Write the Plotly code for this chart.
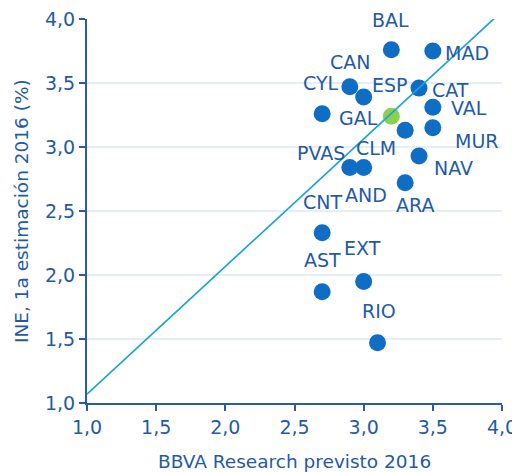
import plotly.graph_objects as go

regions = ["BAL", "MAD", "CAN", "GAL", "CAT", "CYL", "ESP", "CLM", "VAL",
           "MUR", "NAV", "PVAS", "AND", "ARA", "CNT", "EXT", "AST", "RIO"]
bbva_2016 = [3.2, 3.5, 2.9, 3.0, 3.4, 2.7, 3.2, 3.3, 3.5,
             3.5, 3.4, 2.9, 3.0, 3.3, 2.7, 3.0, 2.7, 3.1]
ine_2016 = [3.76, 3.75, 3.47, 3.39, 3.46, 3.26, 3.24, 3.13, 3.31,
            3.15, 2.93, 2.84, 2.84, 2.72, 2.33, 1.95, 1.87, 1.47]
highlight = "ESP"

line_x = [1.0, 3.97]
line_y = [1.07, 4.03]

x_ticks = [1.0, 1.5, 2.0, 2.5, 3.0, 3.5, 4.0]
y_ticks = [1.0, 1.5, 2.0, 2.5, 3.0, 3.5, 4.0]

# label offsets in pixels (dx right, dy down) – styling only
label_offsets = {
    "BAL": (-1, -30), "MAD": (34, 2), "CAN": (0, -25), "GAL": (-5, 21),
    "CAT": (31, 2), "CYL": (-1, -31), "ESP": (-1, -31), "CLM": (-29, 18),
    "VAL": (36, 1), "MUR": (44, 13), "NAV": (34, 12), "PVAS": (-29, -14),
    "AND": (2, 28), "ARA": (10, 22), "CNT": (0, -31), "EXT": (-1, -33),
    "AST": (0, -32), "RIO": (1, -32),
}

BLUE = "#0f6dc4"
GREEN = "#8ccf4d"
TXT = "#1f5aa8"
AXIS = "#2a5ba6"
FONT = "DejaVu Sans"

colors = [GREEN if r == highlight else BLUE for r in regions]

# page body has an 8px margin, so the figure is 8px smaller and margins shifted
W, H = 512, 464
L, R, T, B = 79, 18, 11, 69
PW, PH = W - L - R, H - T - B

fig = go.Figure()
fig.add_trace(go.Scatter(
    x=bbva_2016, y=ine_2016, mode="markers",
    marker=dict(size=17, color=colors, line=dict(width=0)),
    showlegend=False, hoverinfo="skip", cliponaxis=False,
))
fig.add_trace(go.Scatter(
    x=line_x, y=line_y, mode="lines",
    line=dict(color="#1ba2df", width=1.7),
    showlegend=False, hoverinfo="skip",
))

for r, xv, yv in zip(regions, bbva_2016, ine_2016):
    dx, dy = label_offsets[r]
    fig.add_annotation(x=xv, y=yv, text=r, showarrow=False,
                       xshift=dx, yshift=-dy,
                       font=dict(family=FONT, size=19, color=TXT))

fig.add_annotation(xref="paper", yref="paper", x=(21 - 87) / PW, y=0.5,
                   text="INE, 1a estimación 2016 (%)", textangle=-90, showarrow=False,
                   xanchor="center", yanchor="middle",
                   font=dict(family=FONT, size=18.5, color=TXT))
fig.add_annotation(xref="paper", yref="paper", x=0.5, y=(403 - 461) / PH,
                   text="BBVA Research previsto 2016", showarrow=False,
                   xanchor="center", yanchor="middle",
                   font=dict(family=FONT, size=18.5, color=TXT))

fig.update_layout(
    width=W, height=H,
    margin=dict(l=L, r=R, t=T, b=B, autoexpand=False),
    paper_bgcolor="white", plot_bgcolor="white",
    separators=", ",
    font=dict(family=FONT, size=18, color=TXT),
)
fig.update_xaxes(
    range=[1, 4], tickvals=x_ticks, tickformat=".1f", automargin=False,
    ticklabeloverflow="allow",
    showline=True, linecolor=AXIS, linewidth=2,
    ticks="outside", ticklen=6, tickwidth=2, tickcolor=AXIS,
    showgrid=False, zeroline=False,
    tickfont=dict(family=FONT, size=19, color=TXT),
)
fig.update_yaxes(
    range=[1, 4], tickvals=y_ticks, tickformat=".1f", automargin=False,
    ticklabeloverflow="allow",
    showline=True, linecolor=AXIS, linewidth=2,
    ticks="outside", ticklen=6, tickwidth=2, tickcolor=AXIS,
    showgrid=True, gridcolor="#e4effa", gridwidth=2, zeroline=False,
    tickfont=dict(family=FONT, size=19, color=TXT),
)

fig.write_html("out.html")
